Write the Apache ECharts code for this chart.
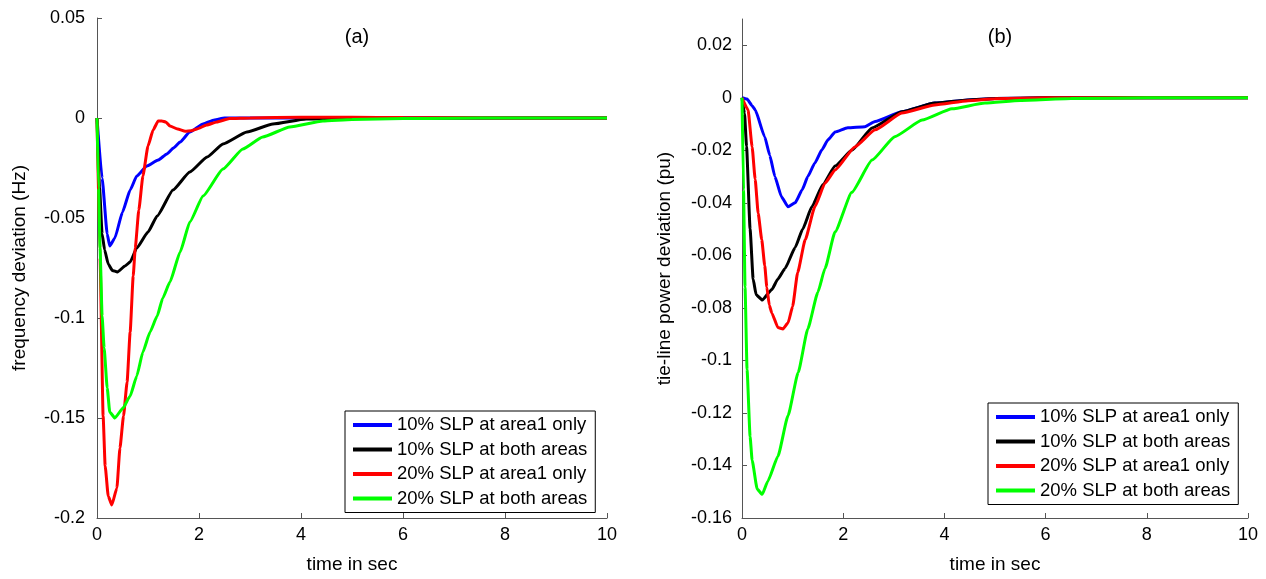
<!DOCTYPE html>
<html>
<head>
<meta charset="utf-8">
<script src="https://cdn.jsdelivr.net/npm/echarts@6/dist/echarts.min.js"></script>
<style>
html, body { margin: 0; padding: 0; background: #fff; }
#chart { width: 1266px; height: 579px; }
</style>
</head>
<body>
<div id="chart"></div>
<script>
// Case labels and colours (shared by both panels)
const caseNames = [
  '10% SLP at area1 only',
  '10% SLP at both areas',
  '20% SLP at area1 only',
  '20% SLP at both areas'
];
const caseColors = ['#0000ff', '#000000', '#ff0000', '#00ff00'];

// Tick values
const timeTicks = [0, 2, 4, 6, 8, 10];
const freqTicks = [-0.2, -0.15, -0.1, -0.05, 0, 0.05];
const tieTicks = [-0.16, -0.14, -0.12, -0.1, -0.08, -0.06, -0.04, -0.02, 0, 0.02];

// (a) frequency deviation (Hz)
const freqBlueT = [0, 0.1, 0.2, 0.25, 0.35, 0.5, 0.65, 0.78, 0.98, 1.2, 1.37, 1.5, 1.63, 1.82, 2.08, 2.3, 2.5, 3, 4, 5, 6, 7, 8, 9, 10];
const freqBlueV = [0, -0.03, -0.058, -0.064, -0.06, -0.047, -0.036, -0.029, -0.024, -0.021, -0.018, -0.015, -0.012, -0.007, -0.003, -0.001, 0, 0, 0, 0, 0, 0, 0, 0, 0];

const freqBlackT = [0, 0.05, 0.1, 0.15, 0.22, 0.3, 0.4, 0.55, 0.65, 0.78, 1.0, 1.18, 1.49, 1.82, 2.16, 2.47, 2.94, 3.45, 4.1, 5, 6, 8, 10];
const freqBlackV = [0, -0.035, -0.058, -0.066, -0.073, -0.0762, -0.077, -0.074, -0.072, -0.065, -0.057, -0.049, -0.036, -0.027, -0.0195, -0.013, -0.007, -0.003, -0.0005, 0, 0, 0, 0];

const freqRedT = [0, 0.06, 0.12, 0.16, 0.22, 0.29, 0.39, 0.45, 0.52, 0.59, 0.65, 0.71, 0.75, 0.82, 0.9, 1.0, 1.1, 1.2, 1.27, 1.35, 1.43, 1.58, 1.73, 1.85, 1.96, 2.15, 2.35, 2.6, 3, 4, 5, 6, 8, 10];
const freqRedV = [0, -0.07, -0.149, -0.174, -0.189, -0.1935, -0.185, -0.165, -0.149, -0.132, -0.107, -0.079, -0.065, -0.046, -0.029, -0.014, -0.006, -0.0015, -0.0015, -0.002, -0.004, -0.0055, -0.0066, -0.0064, -0.0055, -0.0035, -0.002, -0.0003, 0, 0.0004, 0.0004, 0.0002, 0, 0];

const freqGreenT = [0, 0.03, 0.06, 0.1, 0.14, 0.2, 0.25, 0.35, 0.51, 0.65, 0.78, 0.9, 1.04, 1.18, 1.29, 1.43, 1.63, 1.82, 2.08, 2.47, 2.86, 3.25, 3.78, 4.43, 5, 6, 7, 8, 9, 10];
const freqGreenV = [0, -0.035, -0.065, -0.099, -0.115, -0.135, -0.147, -0.15, -0.145, -0.139, -0.129, -0.117, -0.107, -0.099, -0.09, -0.082, -0.067, -0.052, -0.039, -0.0255, -0.0155, -0.0095, -0.0045, -0.0015, -0.0007, -0.0003, -0.0001, 0, 0, 0];

// (b) tie-line power deviation (pu)
const tieBlueT = [0, 0.1, 0.2, 0.26, 0.45, 0.55, 0.65, 0.78, 0.91, 1.05, 1.19, 1.3, 1.44, 1.58, 1.7, 1.84, 2.09, 2.43, 2.63, 3.16, 3.81, 4.47, 5, 6, 8, 10];
const tieBlueV = [0, -0.0005, -0.003, -0.0046, -0.0149, -0.022, -0.03, -0.0377, -0.0415, -0.04, -0.035, -0.03, -0.0248, -0.0198, -0.016, -0.013, -0.0114, -0.011, -0.009, -0.0053, -0.002, -0.0008, -0.0003, 0, 0, 0];

const tieBlackT = [0, 0.05, 0.09, 0.16, 0.22, 0.28, 0.4, 0.59, 0.71, 0.85, 1.05, 1.2, 1.38, 1.6, 1.84, 2.17, 2.57, 3.16, 3.81, 4.47, 5, 6, 8, 10];
const tieBlackV = [0, -0.006, -0.0185, -0.05, -0.069, -0.075, -0.077, -0.073, -0.069, -0.065, -0.057, -0.05, -0.0415, -0.033, -0.026, -0.02, -0.0115, -0.0053, -0.002, -0.0008, -0.0003, 0, 0, 0];

const tieRedT = [0, 0.12, 0.2, 0.26, 0.32, 0.39, 0.45, 0.49, 0.54, 0.59, 0.71, 0.81, 0.91, 1.0, 1.1, 1.25, 1.44, 1.64, 1.84, 2.23, 2.63, 3.16, 3.81, 4.47, 5, 6, 8, 10];
const tieRedV = [0, -0.0046, -0.0187, -0.031, -0.044, -0.054, -0.064, -0.072, -0.079, -0.082, -0.0875, -0.088, -0.0857, -0.0795, -0.0665, -0.054, -0.0415, -0.0325, -0.0275, -0.0187, -0.0122, -0.0058, -0.0027, -0.0011, -0.0004, 0, 0, 0];

const tieGreenT = [0, 0.03, 0.06, 0.1, 0.16, 0.2, 0.3, 0.4, 0.51, 0.71, 0.91, 1.11, 1.3, 1.5, 1.64, 1.84, 2.17, 2.57, 3.02, 3.56, 4.15, 4.8, 5.5, 6.5, 8, 10];
const tieGreenV = [0, -0.035, -0.072, -0.1035, -0.129, -0.138, -0.149, -0.151, -0.146, -0.1365, -0.121, -0.1046, -0.088, -0.074, -0.065, -0.051, -0.036, -0.0237, -0.0148, -0.0085, -0.0042, -0.002, -0.001, -0.0003, 0, 0];

const FONT = '"Liberation Sans", Arial, Helvetica, sans-serif';

function pairs(t, v) {
  return t.map((x, i) => [x, v[i]]);
}

const freqSets = [[freqBlueT, freqBlueV], [freqBlackT, freqBlackV], [freqRedT, freqRedV], [freqGreenT, freqGreenV]];
const tieSets = [[tieBlueT, tieBlueV], [tieBlackT, tieBlackV], [tieRedT, tieRedV], [tieGreenT, tieGreenV]];

function lineSeries(sets, axisIndex) {
  return sets.map((s, i) => ({
    type: 'line',
    name: caseNames[i],
    xAxisIndex: axisIndex,
    yAxisIndex: axisIndex,
    data: pairs(s[0], s[1]),
    showSymbol: false,
    smooth: 0.15,
    smoothMonotone: 'x',
    color: caseColors[i],
    lineStyle: { color: caseColors[i], width: 3 },
    z: 2 + i
  }));
}

function timeAxis(gridIndex) {
  return {
    type: 'value',
    gridIndex: gridIndex,
    min: 0,
    max: 10,
    interval: 2,
    name: 'time in sec',
    nameLocation: 'middle',
    nameGap: 37,
    nameTextStyle: { fontSize: 19, color: '#000', fontFamily: FONT },
    axisLine: { onZero: false, lineStyle: { color: '#555', width: 1 } },
    axisTick: { inside: true, length: 5, lineStyle: { color: '#555' } },
    axisLabel: { fontSize: 18, color: '#000', fontFamily: FONT, margin: 8, customValues: timeTicks },
    splitLine: { show: false }
  };
}

function valueAxis(gridIndex, min, max, ticks, name, gap, margin) {
  return {
    type: 'value',
    gridIndex: gridIndex,
    min: min,
    max: max,
    name: name,
    nameLocation: 'middle',
    nameGap: gap,
    nameTextStyle: { fontSize: 19, color: '#000', fontFamily: FONT },
    axisLine: { show: true, onZero: false, lineStyle: { color: '#555', width: 1 } },
    axisTick: { show: true, inside: true, length: 5, lineStyle: { color: '#555' }, customValues: ticks },
    axisLabel: { fontSize: 18, color: '#000', fontFamily: FONT, margin: margin, customValues: ticks },
    splitLine: { show: false }
  };
}

function legendBox(left, top) {
  return {
    data: caseNames,
    orient: 'vertical',
    left: left,
    top: top,
    padding: [4, 8, 4, 8],
    itemGap: 4.5,
    itemWidth: 39,
    itemHeight: 4,
    icon: 'rect',
    selectedMode: false,
    backgroundColor: '#fff',
    borderColor: '#000',
    borderWidth: 1,
    borderRadius: 0,
    textStyle: { fontSize: 18.5, lineHeight: 20, color: '#000', fontFamily: FONT }
  };
}

const chart = echarts.init(document.getElementById('chart'), null, { renderer: 'canvas' });
chart.setOption({
  animation: false,
  backgroundColor: '#fff',
  textStyle: { fontFamily: FONT },
  grid: [
    { left: 97, top: 18, width: 510, height: 502, containLabel: false },
    { left: 742, top: 19, width: 506, height: 500, containLabel: false }
  ],
  xAxis: [timeAxis(0), timeAxis(1)],
  yAxis: [
    valueAxis(0, -0.2, 0.05, freqTicks, 'frequency deviation (Hz)', 68, 12),
    valueAxis(1, -0.16, 0.03, tieTicks, 'tie-line power deviation (pu)', 68, 10)
  ],
  legend: [legendBox(345, 411), legendBox(988, 403)],
  graphic: [
    { type: 'text', x: 357, y: 37, style: { text: '(a)', font: '20px ' + FONT, fill: '#000', align: 'center', verticalAlign: 'middle' } },
    { type: 'text', x: 1000, y: 37, style: { text: '(b)', font: '20px ' + FONT, fill: '#000', align: 'center', verticalAlign: 'middle' } }
  ],
  series: lineSeries(freqSets, 0).concat(lineSeries(tieSets, 1))
});
</script>
</body>
</html>
